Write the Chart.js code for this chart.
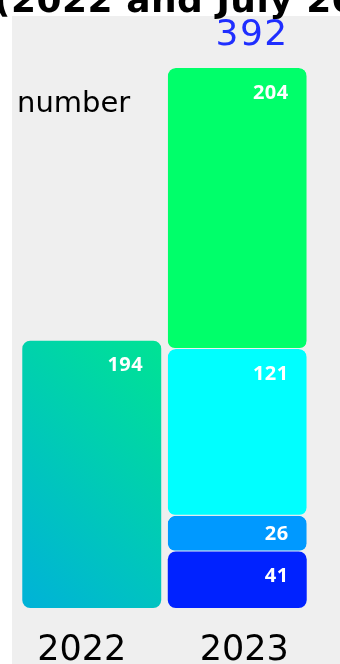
<!DOCTYPE html>
<html>
<head>
<meta charset="utf-8">
<script src="https://cdn.jsdelivr.net/npm/chart.js@4/dist/chart.umd.min.js"></script>
<style>
  html, body { margin: 0; padding: 0; background: #ffffff; }
  #wrap { width: 340px; height: 664px; position: relative; }
</style>
</head>
<body>
<div id="wrap"><canvas id="chart"></canvas></div>
<script>
// Categories and values
const years = ['2022', '2023'];
const values2022 = [194, null];
const part41 = [null, 41];
const part26 = [null, 26];
const part121 = [null, 121];
const part204 = [null, 204];

const titleText = '(2022 and July 2023)';
const unitText = 'number';

// 2023 parts from bottom to top, with their colours
const stackSeries = [part41, part26, part121, part204];
const stackColors = ['#0022ff', '#0099ff', '#00ffff', '#00ff6a'];
const total2023 = stackSeries.reduce((s, arr) => s + arr[1], 0);
const yMax = Math.max(values2022[0], total2023);

const panelBg = '#efefef';
const barPct = 0.955;

// Each segment is drawn as a floating bar [low, high] so every piece keeps its own rounded corners
function floating(series, offset) {
  return series.map(v => (v === null ? null : [offset, offset + v]));
}

// Background: white page with a grey panel, title and unit caption
const backgroundPlugin = {
  id: 'panelBackground',
  beforeDraw(chart) {
    const { ctx, width, height } = chart;
    ctx.save();
    ctx.fillStyle = '#ffffff';
    ctx.fillRect(0, 0, width, height);
    ctx.fillStyle = panelBg;
    ctx.fillRect(12, 16, width - 12, height - 16);
    ctx.fillStyle = '#000000';
    ctx.font = 'bold 36px "DejaVu Sans"';
    ctx.textAlign = 'left';
    ctx.textBaseline = 'alphabetic';
    ctx.letterSpacing = '0.5px';
    ctx.fillText(titleText, -6, 12);
    ctx.letterSpacing = '0px';
    ctx.font = '29px "DejaVu Sans"';
    ctx.fillText(unitText, 17, 112);
    ctx.restore();
  }
};

// Value labels inside bars, stack total above, category labels below
const labelPlugin = {
  id: 'barLabels',
  afterDatasetsDraw(chart) {
    const { ctx } = chart;
    ctx.save();
    ctx.fillStyle = '#ffffff';
    ctx.font = 'bold 20px "Open Sans"';
    ctx.letterSpacing = '0.5px';
    ctx.textAlign = 'right';
    ctx.textBaseline = 'middle';
    chart.data.datasets.forEach((ds, di) => {
      const meta = chart.getDatasetMeta(di);
      meta.data.forEach((el, i) => {
        const v = ds.values[i];
        if (v === null || v === undefined) return;
        const top = Math.min(el.y, el.base);
        const bottom = Math.max(el.y, el.base);
        const y = Math.min(top + 25, (top + bottom) / 2 + 1);
        ctx.fillText(String(v), el.x + el.width / 2 - 18, y);
      });
    });

    // stack total
    const lastMeta = chart.getDatasetMeta(chart.data.datasets.length - 1);
    const topEl = lastMeta.data[1];
    ctx.fillStyle = '#1f2eff';
    ctx.font = '36px "DejaVu Sans"';
    ctx.letterSpacing = '1.5px';
    ctx.textAlign = 'right';
    ctx.fillText(String(total2023), topEl.x + topEl.width / 2 - 18, chart.scales.y.getPixelForValue(total2023) - 32);
    ctx.letterSpacing = '0px';

    // category labels
    const xs = chart.scales.x;
    const shift = [-10, 7];
    ctx.fillStyle = '#000000';
    ctx.font = '35px "DejaVu Sans"';
    ctx.textAlign = 'center';
    ctx.textBaseline = 'alphabetic';
    years.forEach((lab, i) => {
      ctx.fillText(lab, xs.getPixelForValue(i) + shift[i], 660);
    });
    ctx.restore();
  }
};

// Diagonal gradient for the 2022 bar: blue-teal at lower left, green at upper right
function gradient2022(context) {
  const chart = context.chart;
  const { chartArea, scales } = chart;
  if (!chartArea) return '#00cbb8';
  const xs = scales.x, ys = scales.y;
  const half = (xs.getPixelForValue(1) - xs.getPixelForValue(0)) * barPct / 2;
  const left = xs.getPixelForValue(0) - half;
  const bottom = ys.getPixelForValue(0);
  const top = ys.getPixelForValue(values2022[0]);
  const d = (2 * half + (bottom - top)) / 2;
  const g = chart.ctx.createLinearGradient(left, bottom, left + d, bottom - d);
  g.addColorStop(0, '#00b2d8');
  g.addColorStop(1, '#00e394');
  return g;
}

const common = {
  grouped: false,
  borderRadius: 8,
  borderSkipped: false,
  borderColor: panelBg,
  categoryPercentage: 1,
  barPercentage: barPct
};

const datasets = [
  Object.assign({ label: '2022', data: floating(values2022, 0), values: values2022, backgroundColor: gradient2022, borderWidth: 0 }, common)
];
let base = 0;
stackSeries.forEach((series, k) => {
  datasets.push(Object.assign({
    label: String(series[1]),
    data: floating(series, base),
    values: series,
    backgroundColor: stackColors[k],
    borderWidth: k === 0 ? 0 : { top: 0, left: 0, right: 0, bottom: 1 }
  }, common));
  base += series[1];
});

new Chart(document.getElementById('chart'), {
  type: 'bar',
  data: { labels: years, datasets },
  options: {
    responsive: true,
    maintainAspectRatio: false,
    devicePixelRatio: 1,
    animation: false,
    layout: { padding: { left: 19, right: 30, top: 68, bottom: 56 } },
    plugins: { legend: { display: false }, tooltip: { enabled: false }, title: { display: false } },
    scales: {
      x: { display: false },
      y: { display: false, min: 0, max: yMax }
    }
  },
  plugins: [backgroundPlugin, labelPlugin]
});
</script>
</body>
</html>
